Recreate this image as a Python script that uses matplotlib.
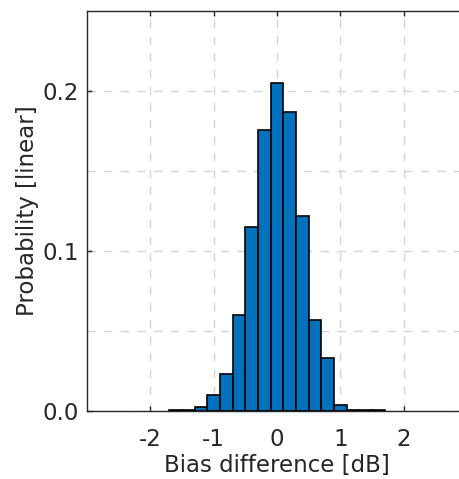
import matplotlib
matplotlib.use("Agg")
import matplotlib.pyplot as plt
import numpy as np

# histogram of bias difference, 0.2 dB bins
bin_centers = [-1.6, -1.4, -1.2, -1.0, -0.8, -0.6, -0.4, -0.2, 0.0,
               0.2, 0.4, 0.6, 0.8, 1.0, 1.2, 1.4, 1.6]
probability = [0.0008, 0.0008, 0.0029, 0.0101, 0.0232, 0.0600, 0.1150, 0.1758,
               0.2046, 0.1866, 0.1218, 0.0569, 0.0330, 0.0040, 0.0009, 0.0008, 0.0007]
bin_width = 0.2

xticks = [-2, -1, 0, 1, 2]
yticks = [0.0, 0.1, 0.2]

plt.rcParams['font.family'] = 'DejaVu Sans'
plt.rcParams['font.size'] = 16.5

fig = plt.figure(figsize=(4.59, 4.79), dpi=100)
W, H = 459, 479
ax = fig.add_axes([87/W, 1 - 411.3/H, 380/W, (411.3 - 10.7)/H])

ax.bar(bin_centers, probability, width=bin_width, color='#0072BD',
       edgecolor='black', linewidth=1.2, zorder=3)

ax.set_xlim(-3, 3)
ax.set_ylim(0, 0.25)
ax.set_xticks(xticks)
ax.set_xticklabels([str(t) for t in xticks])
ax.set_yticks(yticks)
ax.set_yticklabels(['0.0', '0.1', '0.2'])
ax.set_yticks([0.05, 0.15], minor=True)

ax.grid(True, which='both', linestyle=(0, (6, 6)), color='#d4d4d4', linewidth=1.0, zorder=0)
ax.set_axisbelow(True)

ax.tick_params(which='both', direction='in', top=True, right=True, length=3.5,
               width=1.0, color='#262626', labelcolor='#262626')
ax.tick_params(axis='x', pad=12)
ax.tick_params(axis='y', pad=6)
ax.tick_params(which='minor', length=0)
for s in ax.spines.values():
    s.set_color('#262626')
    s.set_linewidth(1.0)

ax.set_xlabel('Bias difference [dB]', color='#262626', labelpad=2)
ax.set_ylabel('Probability [linear]', color='#262626', labelpad=2)

fig.savefig('out.png', dpi=100)
